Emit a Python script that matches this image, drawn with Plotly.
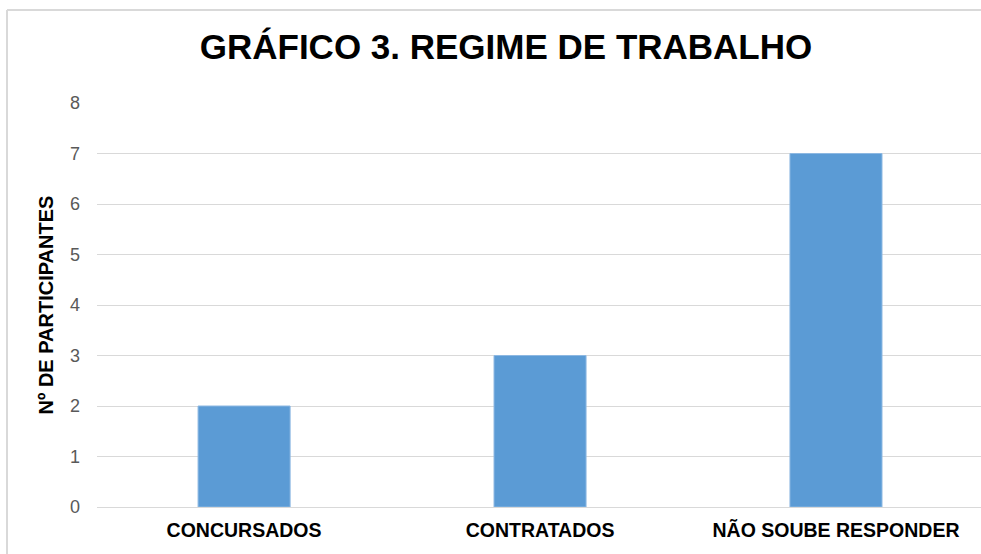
import plotly.graph_objects as go

categories = ["CONCURSADOS", "CONTRATADOS", "NÃO SOUBE RESPONDER"]
values = [2, 3, 7]
y_ticks = [0, 1, 2, 3, 4, 5, 6, 7, 8]

W, H = 981, 554
L, R, T, B = 97, 0, 103, 47
pw = W - L - R
ph = H - T - B

fig = go.Figure()
fig.add_trace(go.Bar(
    x=categories, y=values,
    marker=dict(color="#5B9BD5", line=dict(color="#8DB8E2", width=1)),
    width=0.311,
))

fig.update_layout(
    width=W, height=H,
    margin=dict(l=L, r=R, t=T, b=B, pad=0),
    paper_bgcolor="white", plot_bgcolor="white",
    showlegend=False,
    title=dict(text="<b>GRÁFICO 3. REGIME DE TRABALHO</b>",
               x=506 / W, xref="container", xanchor="center",
               y=1 - 47 / H, yref="container", yanchor="middle",
               font=dict(family="Liberation Sans, Arial", size=35, color="black")),
    font=dict(family="Liberation Sans, Arial"),
    xaxis=dict(
        range=[-0.497, 2.49],
        showline=True, linecolor="#D9D9D9", linewidth=1,
        ticks="", tickfont=dict(size=19.5, color="black", family="Liberation Sans, Arial"),
        tickprefix="<b>", ticksuffix="</b>", ticklabelstandoff=6,
    ),
    yaxis=dict(
        range=[0, 8], tickvals=y_ticks, showgrid=True, gridcolor="#D9D9D9",
        gridwidth=1, zeroline=False, ticks="", ticklabelstandoff=16,
        tickfont=dict(size=18, color="#595959"),
        title=dict(text="<b>Nº DE PARTICIPANTES</b>", font=dict(size=20, color="black"), standoff=10),
    ),
    shapes=[
        dict(type="line", xref="paper", yref="paper",
             x0=(7 - L) / pw, x1=(W + 5 - L) / pw,
             y0=(H - B - 10) / ph, y1=(H - B - 10) / ph,
             line=dict(color="#D9D9D9", width=2), layer="below"),
        dict(type="line", xref="paper", yref="paper",
             x0=(7 - L) / pw, x1=(7 - L) / pw,
             y0=(H - B - 10) / ph, y1=-(B + 10) / ph,
             line=dict(color="#D9D9D9", width=2), layer="below"),
    ],
)
fig.write_html("out.html", config={"displayModeBar": False},
               post_script="document.body.style.margin='0px';document.body.style.overflow='hidden';")
